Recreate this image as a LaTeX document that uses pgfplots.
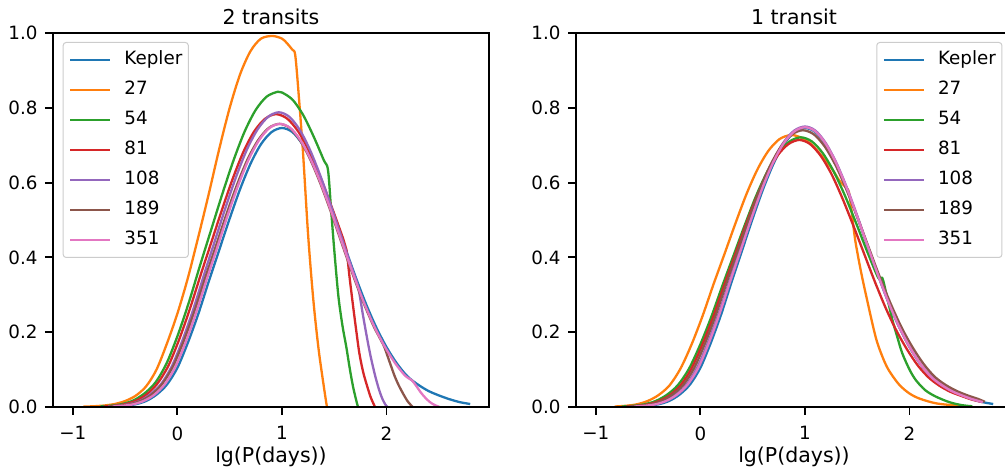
\documentclass[border=0pt]{standalone}
\usepackage{pgfplots}
\pgfplotsset{compat=1.18}
\usepackage{fontspec}
\setmainfont{DejaVu Sans}
\definecolor{c0}{HTML}{1F77B4}
\definecolor{c1}{HTML}{FF7F0E}
\definecolor{c2}{HTML}{2CA02C}
\definecolor{c3}{HTML}{D62728}
\definecolor{c4}{HTML}{9467BD}
\definecolor{c5}{HTML}{8C564B}
\definecolor{c6}{HTML}{E377C2}
\newcommand{\fs}{\fontsize{18.3}{22}\selectfont}
\newcommand{\fl}{\fontsize{20.5}{24}\selectfont}
\pgfplotsset{
  myax/.style={
    scale only axis, width=436pt, height=374pt,
    xmin=-1.19, xmax=2.98, ymin=0, ymax=1,
    xtick={-1,0,1,2}, xticklabels={−1,0,1,2},
    ytick={0,0.2,0.4,0.6,0.8,1.0}, yticklabels={0.0,0.2,0.4,0.6,0.8,1.0},
    /pgf/number format/assume math mode=true,
    xtick pos=bottom, ytick pos=left,
    tick align=outside, major tick length=8pt,
    major tick style={line width=1.9pt, black},
    axis line style={line width=1.9pt},
    axis on top,
    font=\fs, tick label style={font=\fs},
    xticklabel style={yshift=-8pt},
    yticklabel style={xshift=-4pt},
    xlabel={lg(P(days))},
    xlabel style={at={(axis description cs:0.5,0)}, anchor=base, yshift=-55pt, font=\fl},
    title style={at={(axis description cs:0.5,1)}, anchor=base, yshift=2pt, font=\fl},
    every axis plot/.append style={line width=2.3pt, line join=round, smooth, tension=0.5},
    legend cell align=left,
    legend image code/.code={\draw[#1, sharp plot] (0pt,0pt) -- (40pt,0pt);},
    legend style={font=\fs, draw=black!20, line width=1pt, rounded corners=3pt,
      fill=white, fill opacity=0.8, text opacity=1,
      inner xsep=6pt, inner ysep=9pt, row sep=13pt, column sep=13pt,
      nodes={inner sep=0pt, text height=13pt, text depth=4pt}},
    cycle list={{c0},{c1},{c2},{c3},{c4},{c5},{c6}},
  }
}
\begin{document}
\begin{tikzpicture}
\useasboundingbox (0,0) rectangle (1005pt,472pt);
\begin{scope}
\clip (0,0) rectangle (1005pt,472pt);
% ---------------- left panel ----------------
\begin{axis}[myax, at={(53pt,65pt)}, anchor=south west, title={2 transits},
  legend style={at={(0.0222,0.976)}, anchor=north west}]
\addplot coordinates {(-0.6,0.0013) (-0.5,0.0033) (-0.4,0.0073) (-0.3,0.016) (-0.2,0.033) (-0.1,0.060) (0,0.105) (0.1,0.172) (0.2,0.249) (0.3,0.336) (0.4,0.420) (0.5,0.504) (0.6,0.583) (0.7,0.651) (0.8,0.703) (0.9,0.735) (1.0,0.746) (1.1,0.735) (1.2,0.701) (1.3,0.650) (1.4,0.583) (1.5,0.508) (1.6,0.429) (1.7,0.351) (1.8,0.278) (1.9,0.214) (2.0,0.160) (2.1,0.116) (2.2,0.082) (2.3,0.060) (2.4,0.043) (2.5,0.031) (2.6,0.021) (2.7,0.013) (2.8,0.008)};
\addplot coordinates {(-0.9,0.001) (-0.8,0.002) (-0.7,0.004) (-0.6,0.008) (-0.5,0.016) (-0.4,0.03) (-0.3,0.055) (-0.2,0.10) (-0.1,0.17) (0,0.25) (0.1,0.345) (0.2,0.455) (0.3,0.57) (0.4,0.69) (0.5,0.80) (0.6,0.89) (0.7,0.952) (0.8,0.985) (0.91,0.992) (1.0,0.985) (1.05,0.972) (1.1,0.955) (1.125,0.944) (1.15,0.87) (1.2,0.685) (1.25,0.46) (1.30,0.286) (1.35,0.155) (1.40,0.055) (1.43,0)};
\addplot coordinates {(-0.736,0.0015) (-0.63,0.0037) (-0.524,0.0083) (-0.418,0.018) (-0.312,0.037) (-0.206,0.067) (-0.10,0.119) (0.006,0.194) (0.112,0.282) (0.218,0.380) (0.324,0.475) (0.43,0.570) (0.536,0.659) (0.642,0.736) (0.748,0.794) (0.854,0.830) (0.96,0.843) (1.0,0.841) (1.1,0.822) (1.2,0.782) (1.3,0.725) (1.4,0.66) (1.44,0.634) (1.47,0.527) (1.50,0.42) (1.54,0.295) (1.58,0.215) (1.615,0.161) (1.65,0.10) (1.68,0.054) (1.71,0.018) (1.727,0)};
\addplot coordinates {(-0.705,0.0014) (-0.602,0.0034) (-0.499,0.0077) (-0.396,0.017) (-0.293,0.034) (-0.19,0.063) (-0.087,0.110) (0.016,0.180) (0.119,0.262) (0.222,0.353) (0.325,0.441) (0.428,0.529) (0.531,0.612) (0.634,0.684) (0.737,0.738) (0.84,0.771) (0.943,0.783) (1.05,0.771) (1.157,0.736) (1.264,0.682) (1.371,0.612) (1.478,0.533) (1.585,0.450) (1.617,0.42) (1.646,0.348) (1.68,0.27) (1.71,0.205) (1.74,0.144) (1.775,0.095) (1.81,0.06) (1.85,0.025) (1.89,0)};
\addplot coordinates {(-0.662,0.0014) (-0.56,0.0035) (-0.458,0.0077) (-0.356,0.017) (-0.254,0.035) (-0.152,0.063) (-0.05,0.111) (0.052,0.181) (0.154,0.263) (0.256,0.355) (0.358,0.444) (0.46,0.533) (0.562,0.616) (0.664,0.688) (0.766,0.742) (0.868,0.776) (0.97,0.788) (1.07,0.776) (1.17,0.741) (1.27,0.686) (1.37,0.616) (1.47,0.537) (1.57,0.453) (1.67,0.370) (1.72,0.33) (1.74,0.304) (1.775,0.245) (1.81,0.19) (1.84,0.146) (1.87,0.108) (1.90,0.074) (1.93,0.045) (1.96,0.022) (1.99,0.006) (2.01,0)};
\addplot coordinates {(-0.657,0.0014) (-0.555,0.0033) (-0.453,0.0074) (-0.351,0.0165) (-0.249,0.033) (-0.147,0.061) (-0.045,0.107) (0.057,0.174) (0.159,0.253) (0.261,0.341) (0.363,0.426) (0.465,0.512) (0.567,0.592) (0.669,0.661) (0.771,0.713) (0.873,0.746) (0.975,0.757) (1.075,0.746) (1.175,0.712) (1.275,0.659) (1.375,0.592) (1.475,0.516) (1.575,0.435) (1.675,0.356) (1.775,0.282) (1.875,0.217) (1.925,0.19) (1.975,0.163) (2.0,0.144) (2.04,0.112) (2.08,0.081) (2.12,0.056) (2.16,0.035) (2.2,0.016) (2.23,0.006) (2.25,0)};
\addplot coordinates {(-0.62,0.0014) (-0.52,0.0033) (-0.42,0.0074) (-0.32,0.0165) (-0.22,0.033) (-0.12,0.061) (-0.02,0.107) (0.08,0.174) (0.18,0.253) (0.28,0.341) (0.38,0.426) (0.48,0.512) (0.58,0.592) (0.68,0.661) (0.78,0.713) (0.88,0.746) (0.98,0.757) (1.08,0.746) (1.18,0.712) (1.28,0.659) (1.38,0.592) (1.48,0.516) (1.58,0.435) (1.68,0.356) (1.78,0.282) (1.88,0.217) (1.98,0.163) (2.08,0.118) (2.18,0.083) (2.24,0.072) (2.28,0.058) (2.33,0.038) (2.38,0.022) (2.43,0.01) (2.48,0.003) (2.51,0)};
\legend{Kepler,27,54,81,108,189,351}
\end{axis}
% ---------------- right panel ----------------
\begin{axis}[myax, at={(576pt,65pt)}, anchor=south west, title={1 transit},
  legend style={at={(0.978,0.976)}, anchor=north east}]
\addplot coordinates {(-0.6,0.0013) (-0.5,0.0033) (-0.4,0.0073) (-0.3,0.016) (-0.2,0.033) (-0.1,0.060) (0,0.105) (0.1,0.172) (0.2,0.249) (0.3,0.336) (0.4,0.420) (0.5,0.504) (0.6,0.583) (0.7,0.651) (0.8,0.703) (0.9,0.735) (1.0,0.746) (1.1,0.735) (1.2,0.701) (1.3,0.650) (1.4,0.583) (1.5,0.508) (1.6,0.429) (1.7,0.351) (1.8,0.278) (1.9,0.214) (2.0,0.160) (2.1,0.116) (2.2,0.082) (2.3,0.060) (2.4,0.043) (2.5,0.031) (2.6,0.021) (2.7,0.013) (2.8,0.008)};
\addplot coordinates {(-0.82,0.0013) (-0.715,0.0032) (-0.61,0.0071) (-0.505,0.016) (-0.4,0.032) (-0.295,0.058) (-0.19,0.103) (-0.085,0.167) (0.02,0.243) (0.125,0.328) (0.23,0.409) (0.335,0.491) (0.44,0.569) (0.545,0.635) (0.65,0.685) (0.755,0.716) (0.86,0.727) (0.95,0.722) (1.05,0.705) (1.15,0.675) (1.25,0.64) (1.33,0.605) (1.38,0.59) (1.42,0.575) (1.45,0.515) (1.48,0.447) (1.53,0.37) (1.58,0.304) (1.675,0.188) (1.74,0.135) (1.8,0.099) (1.9,0.06) (2.0,0.036) (2.1,0.022) (2.25,0.01) (2.4,0.005) (2.5,0.002)};
\addplot coordinates {(-0.752,0.0013) (-0.645,0.0032) (-0.538,0.0071) (-0.431,0.0157) (-0.324,0.032) (-0.217,0.058) (-0.11,0.102) (-0.003,0.166) (0.104,0.241) (0.211,0.325) (0.318,0.406) (0.425,0.487) (0.532,0.564) (0.639,0.629) (0.746,0.679) (0.853,0.710) (0.96,0.721) (1.066,0.710) (1.172,0.678) (1.278,0.628) (1.384,0.564) (1.49,0.491) (1.596,0.415) (1.702,0.345) (1.74,0.345) (1.78,0.30) (1.836,0.233) (1.88,0.19) (1.93,0.144) (2.0,0.10) (2.06,0.072) (2.15,0.045) (2.25,0.028) (2.38,0.013) (2.5,0.005) (2.6,0.002)};
\addplot coordinates {(-0.71,0.0013) (-0.607,0.0031) (-0.503,0.007) (-0.4,0.0156) (-0.296,0.031) (-0.193,0.057) (-0.089,0.101) (0.014,0.164) (0.118,0.238) (0.222,0.322) (0.325,0.402) (0.429,0.483) (0.532,0.558) (0.636,0.623) (0.739,0.673) (0.842,0.703) (0.946,0.714) (1.049,0.703) (1.152,0.671) (1.255,0.622) (1.358,0.558) (1.461,0.486) (1.564,0.411) (1.667,0.336) (1.77,0.266) (1.873,0.205) (1.976,0.154) (2.079,0.111) (2.182,0.079) (2.285,0.057) (2.388,0.041) (2.491,0.030) (2.594,0.020) (2.697,0.013)};
\addplot coordinates {(-0.648,0.0014) (-0.545,0.0033) (-0.442,0.0074) (-0.339,0.0164) (-0.236,0.033) (-0.133,0.060) (-0.03,0.106) (0.073,0.173) (0.176,0.251) (0.279,0.338) (0.382,0.422) (0.485,0.507) (0.588,0.587) (0.691,0.655) (0.794,0.707) (0.897,0.739) (1.0,0.75) (1.1,0.739) (1.2,0.705) (1.3,0.653) (1.4,0.587) (1.5,0.511) (1.6,0.431) (1.7,0.353) (1.8,0.280) (1.9,0.215) (2.0,0.161) (2.1,0.117) (2.2,0.083) (2.3,0.060) (2.4,0.044) (2.5,0.032) (2.6,0.021) (2.7,0.0135)};
\addplot coordinates {(-0.684,0.0013) (-0.58,0.0033) (-0.476,0.0073) (-0.372,0.0161) (-0.268,0.033) (-0.164,0.059) (-0.06,0.104) (0.044,0.170) (0.148,0.247) (0.252,0.334) (0.356,0.417) (0.46,0.500) (0.564,0.579) (0.668,0.646) (0.772,0.697) (0.876,0.729) (0.98,0.74) (1.085,0.729) (1.19,0.696) (1.295,0.645) (1.4,0.579) (1.505,0.504) (1.61,0.426) (1.715,0.348) (1.82,0.276) (1.925,0.212) (2.03,0.159) (2.135,0.115) (2.24,0.081) (2.345,0.059) (2.45,0.043) (2.555,0.031) (2.66,0.021) (2.72,0.014)};
\addplot coordinates {(-0.632,0.0013) (-0.53,0.0033) (-0.428,0.0073) (-0.326,0.0163) (-0.224,0.033) (-0.122,0.060) (-0.02,0.105) (0.082,0.172) (0.184,0.250) (0.286,0.337) (0.388,0.421) (0.49,0.506) (0.592,0.585) (0.694,0.653) (0.796,0.705) (0.898,0.737) (1.0,0.748) (1.1,0.737) (1.2,0.703) (1.3,0.651) (1.4,0.585) (1.5,0.509) (1.6,0.430) (1.7,0.352) (1.8,0.279) (1.9,0.215) (2.0,0.161) (2.1,0.117) (2.2,0.082) (2.3,0.060) (2.4,0.043) (2.5,0.031) (2.6,0.021) (2.7,0.013)};
\legend{Kepler,27,54,81,108,189,351}
\end{axis}
\end{scope}
\end{tikzpicture}
\end{document}
